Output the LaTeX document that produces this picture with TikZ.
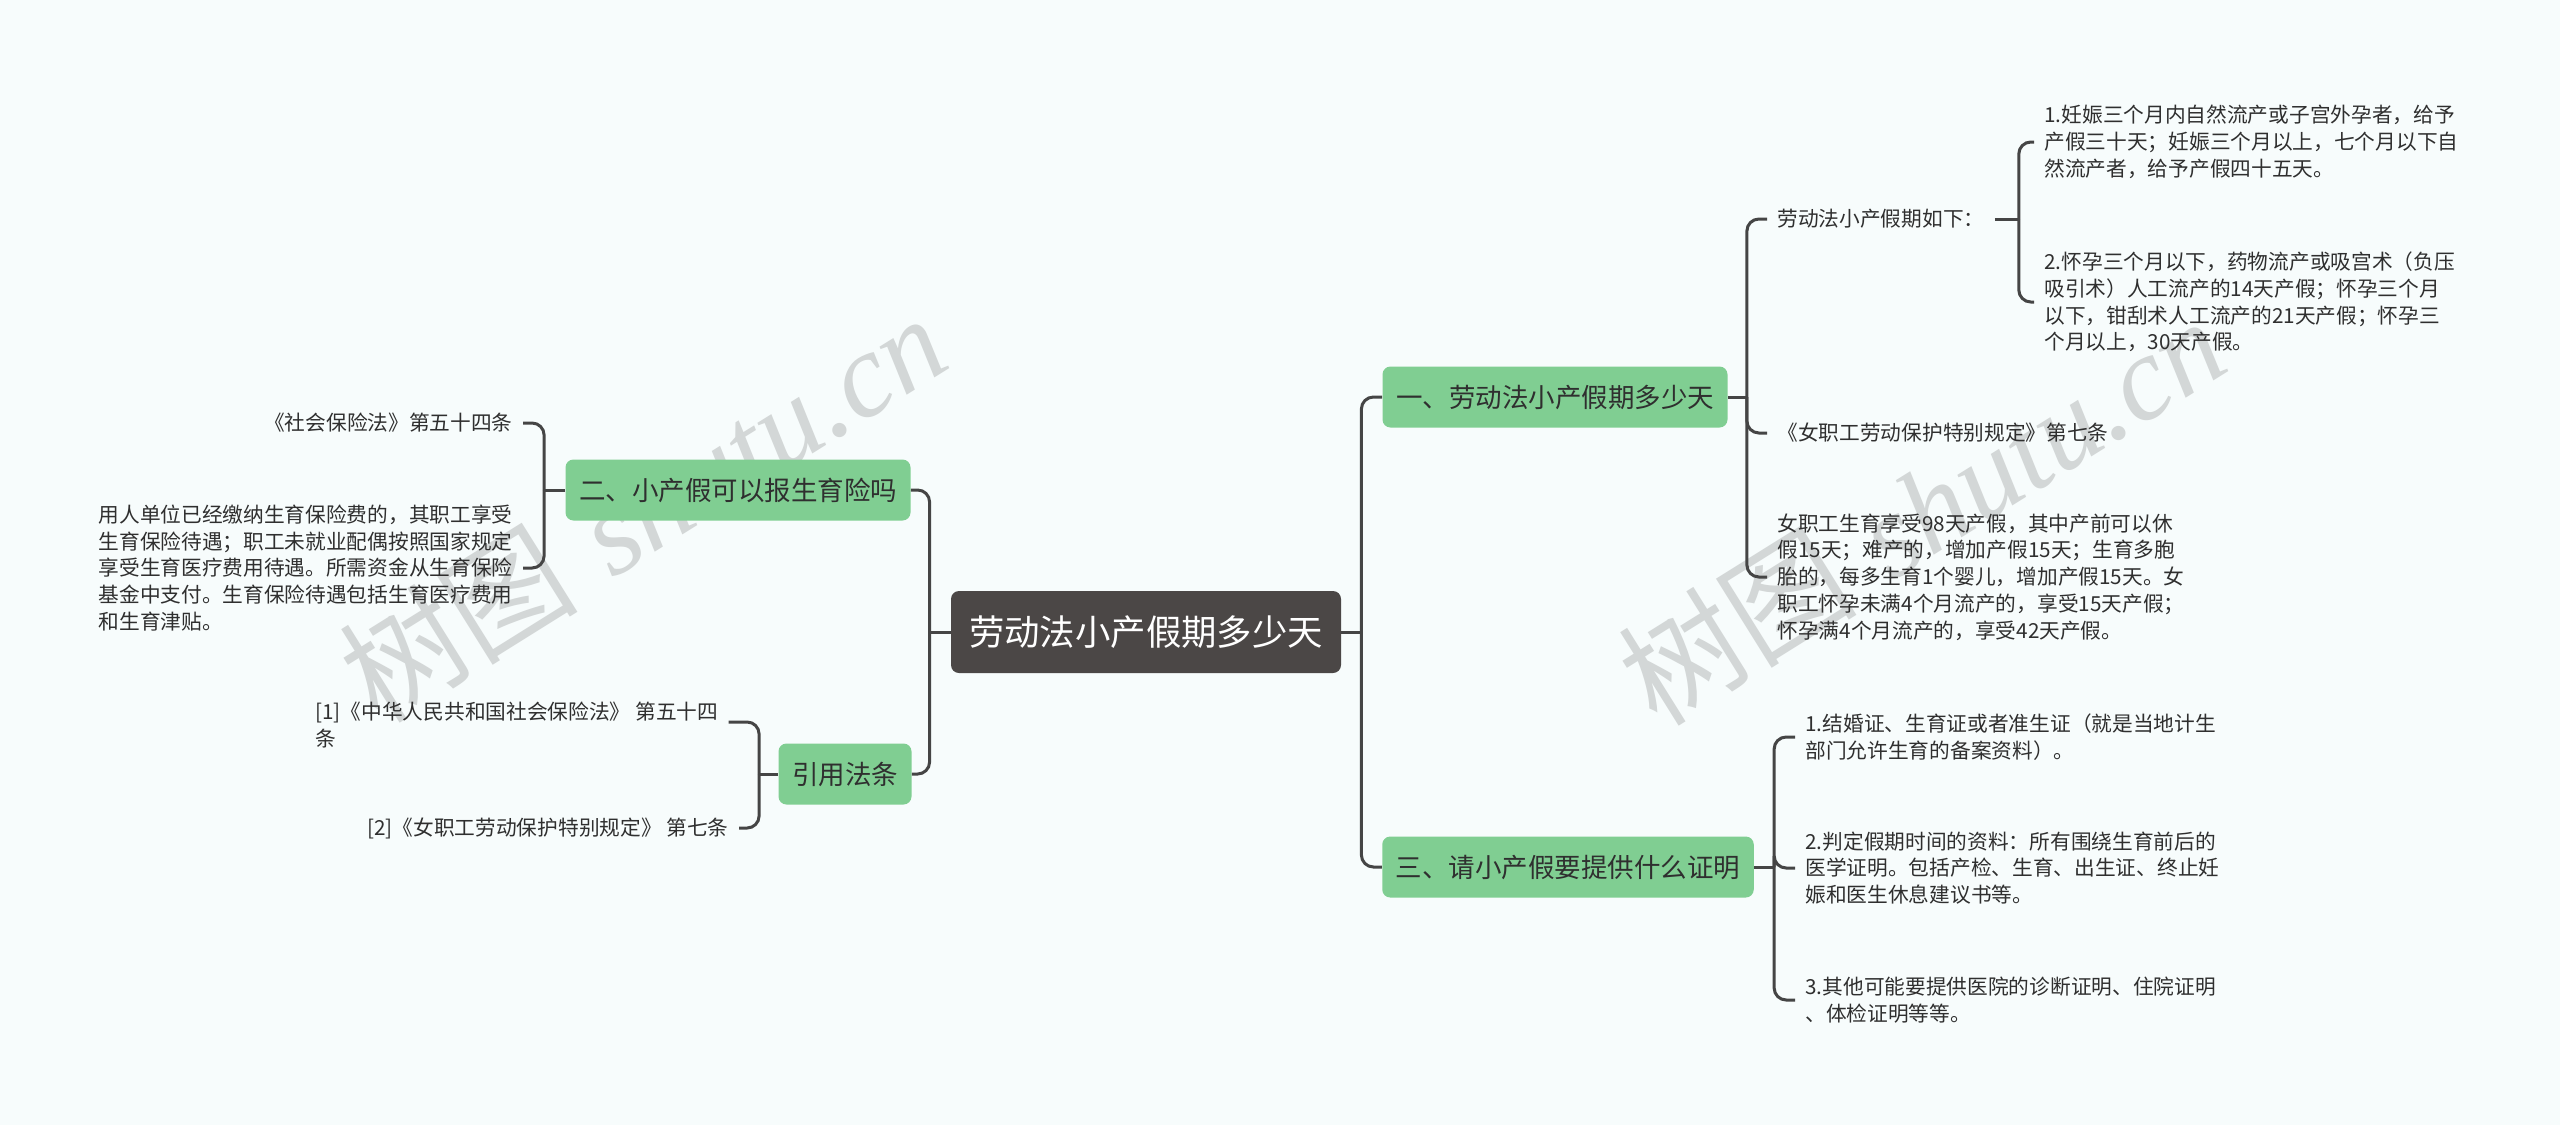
\documentclass[tikz,border=0pt]{standalone}
\usepackage{fontspec}
\usepackage{xcolor}
\usepackage{tikz}
\usetikzlibrary{calc,positioning}
\newfontfamily\cjk{Noto Sans CJK SC}
\newfontfamily\wmserif{Liberation Serif}
\definecolor{rootc}{HTML}{4B4746}
\definecolor{topicc}{HTML}{80CE92}
\definecolor{linec}{HTML}{454545}
\definecolor{txtc}{HTML}{2F2F2F}
\definecolor{bgc}{HTML}{F7FCFC}
\definecolor{wmc}{HTML}{D3D7D7}
\tikzset{
  link/.style={draw=linec,line width=1.5pt},
  elbow/.style={link,rounded corners=6pt},
  rootbox/.style={fill=rootc,rounded corners=4pt,text=white,font=\cjk\fontsize{17.7}{20}\selectfont,minimum width=195pt,minimum height=41pt,inner sep=0pt},
  topic/.style={fill=topicc,rounded corners=4pt,text=txtc,font=\cjk\fontsize{13.25}{16}\selectfont,minimum height=30.5pt,inner xsep=6.75pt,inner ysep=0pt},
  leaf/.style={text=txtc,font=\cjk\fontsize{10.35}{13.4}\selectfont,align=left,inner xsep=5pt,inner ysep=0pt},
  wm/.style={text=wmc,rotate=32,font=\fontsize{60}{64}\selectfont}
}

\begin{document}
\begin{tikzpicture}[x=0.5pt,y=-0.5pt]
\useasboundingbox (0,0) rectangle (2560,1125);
\fill[bgc] (0,0) rectangle (2560,1125);
% watermark
\node[wm] (wm1) at (642,507) {{\cjk 树图} {\wmserif\itshape shutu.cn}};
\node[wm] (wm2) at (1921,510) {{\cjk 树图} {\wmserif\itshape shutu.cn}};

\node[rootbox] (root) at (1146,632) {劳动法小产假期多少天};
\node[topic] (b1) at (1555,397) {一、劳动法小产假期多少天};
\node[topic] (b2) at (738,490) {二、小产假可以报生育险吗};
\node[topic] (b3) at (1568,867) {三、请小产假要提供什么证明};
\node[topic] (b4) at (845,774) {引用法条};

% right side
\node[leaf,anchor=west] (r1) at (1767,219) {劳动法小产假期如下：};
\node[leaf,anchor=west] (r11) at (2034,142) {1.妊娠三个月内自然流产或子宫外孕者，给予\\产假三十天；妊娠三个月以上，七个月以下自\\然流产者，给予产假四十五天。};
\node[leaf,anchor=west] (r12) at (2034,302) {2.怀孕三个月以下，药物流产或吸宫术（负压\\吸引术）人工流产的14天产假；怀孕三个月\\以下，钳刮术人工流产的21天产假；怀孕三\\个月以上，30天产假。};
\node[leaf,anchor=west] (r2) at (1767,433) {《女职工劳动保护特别规定》第七条};
\node[leaf,anchor=west] (r3) at (1767,577) {女职工生育享受98天产假，其中产前可以休\\假15天；难产的，增加产假15天；生育多胞\\胎的，每多生育1个婴儿，增加产假15天。女\\职工怀孕未满4个月流产的，享受15天产假；\\怀孕满4个月流产的，享受42天产假。};
\node[leaf,anchor=west] (t1) at (1795,737) {1.结婚证、生育证或者准生证（就是当地计生\\部门允许生育的备案资料）。};
\node[leaf,anchor=west] (t2) at (1795,868) {2.判定假期时间的资料：所有围绕生育前后的\\医学证明。包括产检、生育、出生证、终止妊\\娠和医生休息建议书等。};
\node[leaf,anchor=west] (t3) at (1795,1000) {3.其他可能要提供医院的诊断证明、住院证明\\、体检证明等等。};

% left side
\node[leaf,anchor=east] (l1) at (523,423) {《社会保险法》第五十四条};
\node[leaf,anchor=east] (l2) at (523,568) {用人单位已经缴纳生育保险费的，其职工享受\\生育保险待遇；职工未就业配偶按照国家规定\\享受生育医疗费用待遇。所需资金从生育保险\\基金中支付。生育保险待遇包括生育医疗费用\\和生育津贴。};
\node[leaf,anchor=west] (c1) at (305,725) {[1]《中华人民共和国社会保险法》 第五十四\\条};
\node[leaf,anchor=east] (c2) at (739,828) {[2]《女职工劳动保护特别规定》 第七条};

% connectors
\draw[link] (root.east) -- ++(20,0) coordinate (jr);
\draw[elbow] (jr) |- (b1.west);
\draw[elbow] (jr) |- (b3.west);
\draw[link] (root.west) -- ++(-21,0) coordinate (jl);
\draw[elbow] (jl) |- (b2.east);
\draw[elbow] (jl) |- (b4.east);

\draw[link] (b1.east) -- ++(19,0) coordinate (j1);
\foreach \n in {r1,r2,r3} \draw[elbow] (j1) |- (\n.west);
\draw[link] (r1.east) -- ++(24,0) coordinate (j11);
\foreach \n in {r11,r12} \draw[elbow] (j11) |- (\n.west);

\draw[link] (b3.east) -- ++(20,0) coordinate (j3);
\foreach \n in {t1,t2,t3} \draw[elbow] (j3) |- (\n.west);

\draw[link] (b2.west) -- ++(-21,0) coordinate (j2);
\foreach \n in {l1,l2} \draw[elbow] (j2) |- (\n.east);

\draw[link] (b4.west) -- ++(-19,0) coordinate (j4);
\draw[elbow] (j4) |- ($(c1.east)+(0,-3)$);
\draw[elbow] (j4) |- (c2.east);
\end{tikzpicture}
\end{document}
